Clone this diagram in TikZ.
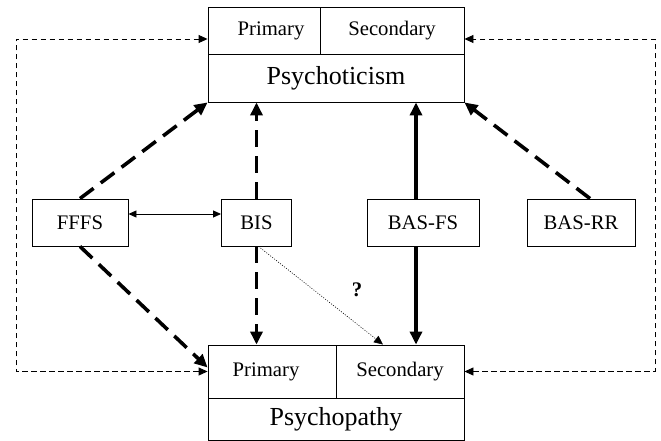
\documentclass[tikz,border=0pt]{standalone}
\usepackage{fontspec}
\setmainfont{Liberation Serif}
\usetikzlibrary{arrows.meta}

\begin{document}
\begin{tikzpicture}[x=1pt,y=-1pt,
  box/.style={draw,line width=0.9pt,fill=white,inner sep=0pt,font=\fontsize{20.7}{24}\selectfont},
  gross/.style={box,font=\fontsize{26}{30}\selectfont},
  strich/.style={line width=3.6pt,dash pattern=on 17pt off 9pt,-{Triangle[length=13pt,width=12pt]}},
  voll/.style={line width=3.6pt,-{Triangle[length=13pt,width=12pt]}},
  rahmen/.style={line width=0.9pt,dash pattern=on 5.5pt off 3.5pt,{Triangle[length=9pt,width=8pt]}-{Triangle[length=9pt,width=8pt]}},
  duenn/.style={line width=0.9pt,{Triangle[length=8pt,width=7pt]}-{Triangle[length=8pt,width=7pt]}},
  punkt/.style={line width=0.6pt,dash pattern=on 1pt off 1.5pt,-{Triangle[length=9pt,width=8pt]}}]
\useasboundingbox (0,0) rectangle (661,441);

%Kasten oben
\node[box,minimum width=112pt,minimum height=47pt] (psyP) at (264,30.5) {\hspace*{14pt}Primary};
\node[box,minimum width=144pt,minimum height=47pt] (psyS) at (392,30.5) {Secondary};
\node[gross,minimum width=256pt,minimum height=48pt] (psyT) at (336,78) {Psychoticism};

%Kasten unten
\node[box,minimum width=128pt,minimum height=53pt] (patP) at (272,371.5) {Primary\hspace*{12pt}};
\node[box,minimum width=128pt,minimum height=53pt] (patS) at (400,371.5) {Secondary};
\node[gross,minimum width=256pt,minimum height=42pt] (patT) at (336,419) {Psychopathy};

%Systeme in der Mitte
\node[box,minimum width=96pt,minimum height=47pt] (FFFS) at (80,222.5) {FFFS};
\node[box,minimum width=70pt,minimum height=47pt] (BIS) at (256.5,222.5) {BIS};
\node[box,minimum width=112pt,minimum height=47pt] (BASFS) at (423,222.5) {BAS-FS};
\node[box,minimum width=108pt,minimum height=47pt] (BASRR) at (581,222.5) {BAS-RR};

\coordinate (lo) at (16,39);
\coordinate (ro) at (655,39);

%gestrichelte Pfeile
\path[strich]
(FFFS.north) edge (psyT.south west)
(FFFS.south) edge ([yshift=4pt]patP.west);
\draw[strich] (BIS.north) -- (BIS.north |- psyT.south);
\draw[strich] (BIS.south) -- (BIS.south |- patP.north);
\draw[strich] ([xshift=9pt]BASRR.north) -- (psyT.south east);

%BAS-FS
\draw[voll] ([xshift=-7pt]BASFS.north) -- ([xshift=-7pt]BASFS.north |- psyT.south);
\draw[voll] ([xshift=-7pt]BASFS.south) -- ([xshift=-7pt]BASFS.south |- patS.north);

\draw[duenn] ([yshift=8.5pt]FFFS.east) -- ([yshift=8.5pt]BIS.west);
\draw[punkt] ([xshift=2pt]BIS.south) -- ([xshift=-17pt]patS.north);
\node[font=\fontsize{20.7}{24}\selectfont\bfseries] (frage) at (357,290) {?};

%Rahmen aussen
\draw[rahmen] (patP.west) -| (lo) -- ([yshift=-8.5pt]psyP.west);
\draw[rahmen] (patS.east) -| (ro) -- ([yshift=-8.5pt]psyS.east);
\end{tikzpicture}
\end{document}
